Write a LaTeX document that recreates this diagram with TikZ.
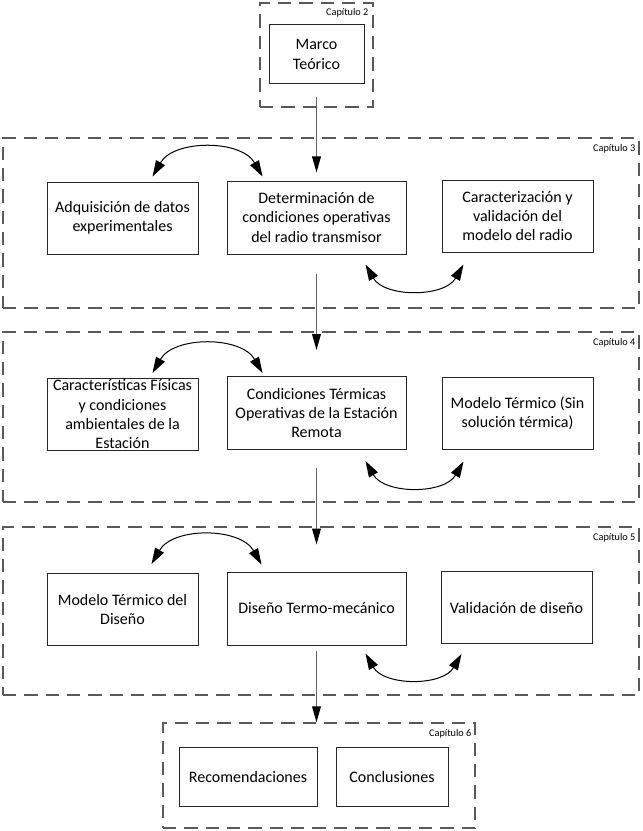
\documentclass[tikz,border=0pt]{standalone}
\usepackage{fontspec}
\setmainfont{Carlito}
\usetikzlibrary{arrows.meta,calc}
\definecolor{capgray}{RGB}{89,89,89}
\definecolor{boxline}{RGB}{38,38,38}
\definecolor{flowgray}{RGB}{100,100,100}

\begin{document}
\begin{tikzpicture}[x=0.75pt, y=-0.75pt,
  chap/.style={draw=capgray, line width=1pt, dash pattern=on 10pt off 6pt, minimum width=477pt, minimum height=127.5pt, inner sep=0pt},
  caplbl/.style={anchor=north east, font=\fontsize{7.7}{9}\selectfont, inner sep=0pt},
  box/.style={draw=boxline, line width=0.75pt, align=center, font=\fontsize{12}{14.5}\selectfont, inner xsep=2pt, inner ysep=0pt, minimum width=113.25pt, minimum height=54pt},
  wbox/.style={box, minimum width=134.25pt, minimum height=54.75pt},
  link/.style={{Triangle[length=12pt,width=7.5pt]}-{Triangle[length=12pt,width=7.5pt]}, line width=0.75pt},
  flow/.style={-{Triangle[length=12pt,width=6.5pt,color=black]}, draw=flowgray, line width=1.1pt}]
  \useasboundingbox (0,0) rectangle (642,831);

  % chapter frames
  \node[chap, minimum width=84.75pt, minimum height=78pt] (c2) at (316.5,55) {};
  \node[caplbl] at ($(c2.north east)+(-5,6)$) {Capítulo 2};
  \node[chap] (c3) at (321,223) {};
  \node[caplbl] at ($(c3.north east)+(-4,7)$) {Capítulo 3};
  \node[chap] (c4) at (321,417) {};
  \node[caplbl] at ($(c4.north east)+(-4,7)$) {Capítulo 4};
  \node[chap, minimum height=126pt] (c5) at (321,611) {};
  \node[caplbl] at ($(c5.north east)+(-4,7)$) {Capítulo 5};
  \node[chap, minimum width=234pt, minimum height=78.75pt] (c6) at (319,775.5) {};
  \node[caplbl] at ($(c6.north east)+(-4,7)$) {Capítulo 6};

  % chapter 2
  \node[box, minimum width=71.25pt, minimum height=44.25pt] (marco) at (316.5,54.5) {Marco\\Teórico};

  % chapter 3
  \node[box] (adq) at (122.5,218) {Adquisición de datos\\experimentales};
  \node[wbox] (det) at (316.5,217.5) {Determinación de\\condiciones operativas\\del radio transmisor};
  \node[box] (cval) at (517.5,216) {Caracterización y\\validación del\\modelo del radio};

  % chapter 4
  \node[box] (fis) at (122.5,414.5) {Características Físicas\\y condiciones\\ambientales de la\\Estación};
  \node[wbox] (cond) at (316.5,413) {Condiciones Térmicas\\Operativas de la Estación\\Remota};
  \node[box] (mter) at (517.5,413) {Modelo Térmico (Sin\\solución térmica)};

  % chapter 5
  \node[box] (mdis) at (122.5,609.5) {Modelo Térmico del\\Diseño};
  \node[wbox] (dis) at (316.5,608.5) {Diseño Termo-mecánico};
  \node[box] (val) at (516.5,607.5) {Validación de diseño};

  % chapter 6
  \node[box, minimum width=103.5pt, minimum height=44.25pt] (rec) at (248,776.5) {Recomendaciones};
  \node[box, minimum width=84pt, minimum height=44.25pt] (concl) at (392,776.5) {Conclusiones};

  % main flow
  \draw[flow] ($(marco.south)+(0,13)$) -- ($(det.north)+(0,-8)$);
  \draw[flow] ($(det.south)+(0,19)$) -- ($(cond.north)+(0,-26)$);
  \draw[flow] ($(cond.south)+(0,18)$) -- ($(dis.north)+(0,-27)$);
  \draw[flow] ($(dis.south)+(0,5)$) -- (dis.south |- c6.north);

  % exchanges inside each chapter
  \draw[link] ($(adq.north)+(30,-5)$) to[bend left=60] ($(det.north)+(-54,-4)$);
  \draw[link] ($(det.south east)+(-41,10)$) to[bend right=60] ($(cval.south west)+(22,12)$);
  \draw[link] ($(fis.north)+(30,-5)$) to[bend left=60] ($(cond.north)+(-54,-3)$);
  \draw[link] ($(cond.south east)+(-41,11)$) to[bend right=60] ($(mter.south west)+(22,12)$);
  \draw[link] ($(mdis.north)+(29,-9)$) to[bend left=60] ($(dis.north)+(-55,-7)$);
  \draw[link] ($(dis.south east)+(-41,8)$) to[bend right=60] ($(val.south west)+(21,10)$);
\end{tikzpicture}
\end{document}
